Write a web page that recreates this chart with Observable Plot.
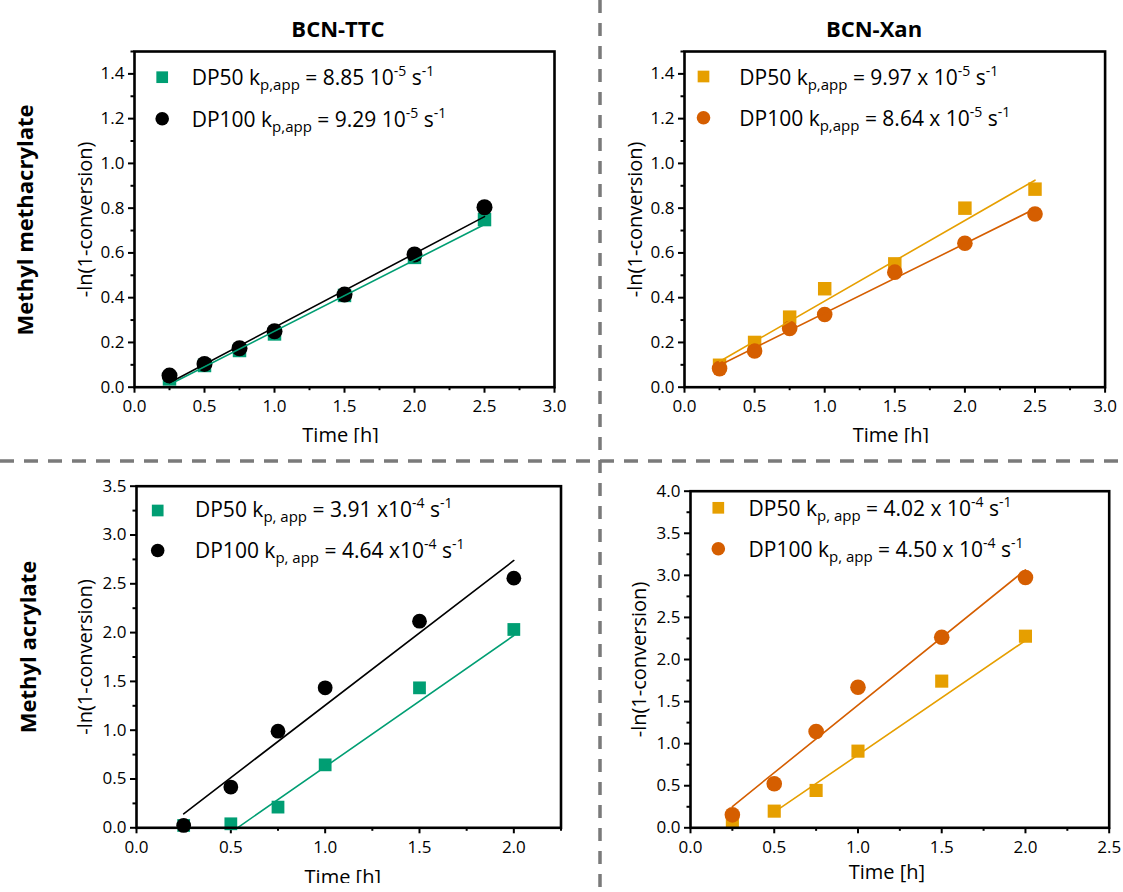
<!DOCTYPE html>
<html>
<head>
<meta charset="utf-8">
<script src="https://cdn.jsdelivr.net/npm/d3@7"></script>
<script src="https://cdn.jsdelivr.net/npm/@observablehq/plot@0.6"></script>
<style>
  html, body { margin: 0; padding: 0; background: #fff; }
  #page { position: relative; width: 1123px; height: 892px; overflow: hidden; background: #fff; }
  #page svg { position: absolute; }
</style>
</head>
<body>
<div id="page"></div>
<script>
// ---------------- data ----------------
const colTitles = ["BCN-TTC", "BCN-Xan"];
const rowTitles = ["Methyl methacrylate", "Methyl acrylate"];
const yTitle = "-ln(1-conversion)";
const xTitle = "Time [h]";

const timesMMA = [0.25, 0.5, 0.75, 1.0, 1.5, 2.0, 2.5];
const ttcMMA_DP50 = [0.037, 0.097, 0.164, 0.238, 0.41, 0.58, 0.749];
const ttcMMA_DP100 = [0.052, 0.104, 0.174, 0.25, 0.414, 0.593, 0.804];
const ttcMMA_fitX = [0.25, 2.5];
const ttcMMA_fit50 = [0.012, 0.727];
const ttcMMA_fit100 = [0.02, 0.762];

const xanMMA_DP50 = [0.098, 0.20, 0.313, 0.44, 0.551, 0.80, 0.885];
const xanMMA_DP100 = [0.083, 0.162, 0.262, 0.325, 0.514, 0.643, 0.774];
const xanMMA_fitX = [0.25, 2.5];
const xanMMA_fit50 = [0.115, 0.925];
const xanMMA_fit100 = [0.098, 0.797];

const timesMA = [0.25, 0.5, 0.75, 1.0, 1.5, 2.0];
const ttcMA_DP50 = [0.024, 0.041, 0.212, 0.645, 1.434, 2.032];
const ttcMA_DP100 = [0.024, 0.417, 0.99, 1.434, 2.117, 2.558];
const ttcMA_fit50X = [0.535, 2.0];
const ttcMA_fit50 = [0.0, 1.97];
const ttcMA_fit100X = [0.25, 2.0];
const ttcMA_fit100 = [0.143, 2.739];

const xanMA_DP50 = [0.087, 0.198, 0.444, 0.911, 1.743, 2.277];
const xanMA_DP100 = [0.154, 0.523, 1.145, 1.671, 2.265, 2.974];
const xanMA_fit50X = [0.5, 2.0];
const xanMA_fit50 = [0.186, 2.226];
const xanMA_fit100X = [0.25, 2.0];
const xanMA_fit100 = [0.253, 3.065];

// tick values
const xMajor30 = [0.0, 0.5, 1.0, 1.5, 2.0, 2.5, 3.0];
const xMinor30 = [0.25, 0.75, 1.25, 1.75, 2.25, 2.75];
const xMajor225 = [0.0, 0.5, 1.0, 1.5, 2.0];
const xMinor225 = [0.25, 0.75, 1.25, 1.75, 2.25];
const xMajor25 = [0.0, 0.5, 1.0, 1.5, 2.0, 2.5];
const xMinor25 = [0.25, 0.75, 1.25, 1.75, 2.25];
const yMajor15 = [0.0, 0.2, 0.4, 0.6, 0.8, 1.0, 1.2, 1.4];
const yMinor15 = [0.1, 0.3, 0.5, 0.7, 0.9, 1.1, 1.3, 1.5];
const yMajor35 = [0.0, 0.5, 1.0, 1.5, 2.0, 2.5, 3.0, 3.5];
const yMinor35 = [0.25, 0.75, 1.25, 1.75, 2.25, 2.75, 3.25];
const yMajor40 = [0.0, 0.5, 1.0, 1.5, 2.0, 2.5, 3.0, 3.5, 4.0];
const yMinor40 = [0.25, 0.75, 1.25, 1.75, 2.25, 2.75, 3.25, 3.75];

// legend labels: [main, sub, main, sup, main, sup]
const legTTC_MMA = [
  ["DP50 k", "p,app", " = 8.85 10", "-5", " s", "-1"],
  ["DP100 k", "p,app", " = 9.29 10", "-5", " s", "-1"]
];
const legXan_MMA = [
  ["DP50 k", "p,app", " = 9.97 x 10", "-5", " s", "-1"],
  ["DP100 k", "p,app", " = 8.64 x 10", "-5", " s", "-1"]
];
const legTTC_MA = [
  ["DP50 k", "p, app", " = 3.91 x10", "-4", " s", "-1"],
  ["DP100 k", "p, app", " = 4.64 x10", "-4", " s", "-1"]
];
const legXan_MA = [
  ["DP50 k", "p, app", " = 4.02 x 10", "-4", " s", "-1"],
  ["DP100 k", "p, app", " = 4.50 x 10", "-4", " s", "-1"]
];

const GREEN = "#009E73", BLACK = "#000000", ORANGE = "#E69F00", DARKOR = "#D55E00";
const FONT = "'Open Sans', sans-serif";

// ---------------- panels ----------------
const zip = (xs, ys) => xs.map((x, i) => ({x, y: ys[i]}));

const panels = [
  {
    box: [0, 0, 592, 443], frame: [134, 554, 51, 386.7],
    xDomain: [0, 3], yDomain: [0, 1.5],
    xMajor: xMajor30, xMinor: xMinor30, yMajor: yMajor15, yMinor: yMinor15,
    s50: zip(timesMMA, ttcMMA_DP50), s100: zip(timesMMA, ttcMMA_DP100),
    f50: zip(ttcMMA_fitX, ttcMMA_fit50), f100: zip(ttcMMA_fitX, ttcMMA_fit100),
    c50: GREEN, c100: BLACK, r50: 7.6, r100: 8,
    yTitleDx: -49, xTitleDx: -4, xTitleDy: 48.5,
    leg: legTTC_MMA, legDot: [27.7, 25.7, 67.3], legText: [191.7, 85, 126.7]
  },
  {
    box: [603, 0, 520, 443], frame: [684, 1104.6, 51, 386.7],
    xDomain: [0, 3], yDomain: [0, 1.5],
    xMajor: xMajor30, xMinor: xMinor30, yMajor: yMajor15, yMinor: yMinor15,
    s50: zip(timesMMA, xanMMA_DP50), s100: zip(timesMMA, xanMMA_DP100),
    f50: zip(xanMMA_fitX, xanMMA_fit50), f100: zip(xanMMA_fitX, xanMMA_fit100),
    c50: ORANGE, c100: DARKOR, r50: 7.6, r100: 7.8,
    yTitleDx: -48.6, xTitleDx: -4, xTitleDy: 48.5,
    leg: legXan_MMA, legDot: [19, 25, 66.3], legText: [739.3, 85, 126]
  },
  {
    box: [0, 465, 592, 418], frame: [136, 560.5, 485.7, 827.3],
    xDomain: [0, 2.25], yDomain: [0, 3.5],
    xMajor: xMajor225, xMinor: xMinor225, yMajor: yMajor35, yMinor: yMinor35,
    s50: zip(timesMA, ttcMA_DP50), s100: zip(timesMA, ttcMA_DP100),
    f50: zip(ttcMA_fit50X, ttcMA_fit50), f100: zip(ttcMA_fit100X, ttcMA_fit100),
    c50: GREEN, c100: BLACK, r50: 7.2, r100: 7.4,
    yTitleDx: -51, xTitleDx: -6, xTitleDy: 49.4,
    leg: legTTC_MA, legDot: [21.2, 24.3, 64.3], legText: [195, 516.7, 558.3]
  },
  {
    box: [603, 465, 520, 418], frame: [690, 1108.7, 490.7, 827.3],
    xDomain: [0, 2.5], yDomain: [0, 4],
    xMajor: xMajor25, xMinor: xMinor25, yMajor: yMajor40, yMinor: yMinor40,
    s50: zip(timesMA, xanMA_DP50), s100: zip(timesMA, xanMA_DP100),
    f50: zip(xanMA_fit50X, xanMA_fit50), f100: zip(xanMA_fit100X, xanMA_fit100),
    c50: ORANGE, c100: DARKOR, r50: 7.4, r100: 7.8,
    yTitleDx: -51, xTitleDx: -13, xTitleDy: 44.4,
    leg: legXan_MA, legDot: [27.8, 16.6, 57.6], legText: [748.6, 515.7, 556.7]
  }
];

const page = document.getElementById("page");
const fmt = d3.format(".1f");

for (const p of panels) {
  const [bx, by, bw, bh] = p.box;
  const [fx0, fx1, fy0, fy1] = p.frame;
  const chart = Plot.plot({
    width: bw, height: bh,
    marginLeft: fx0 - bx, marginRight: bx + bw - fx1,
    marginTop: fy0 - by, marginBottom: by + bh - fy1,
    x: {domain: p.xDomain},
    y: {domain: p.yDomain},
    style: {fontFamily: FONT, fontSize: "17px", color: "#000", background: "transparent", overflow: "hidden"},
    marks: [
      Plot.axisX(p.xMajor, {tickSize: 6, tickPadding: 7, tickFormat: fmt, strokeWidth: 2, label: null, fontSize: 17}),
      Plot.axisX(p.xMinor, {tickSize: 3.5, tickFormat: () => "", strokeWidth: 2, label: null}),
      Plot.axisY(p.yMajor, {tickSize: 6, tickPadding: 4, tickFormat: fmt, strokeWidth: 2, label: null, fontSize: 17}),
      Plot.axisY(p.yMinor, {tickSize: 3.5, tickFormat: () => "", strokeWidth: 2, label: null}),
      Plot.dot(p.s50, {x: "x", y: "y", symbol: "square", r: p.r50, fill: p.c50}),
      Plot.dot(p.s100, {x: "x", y: "y", symbol: "circle", r: p.r100, fill: p.c100}),
      Plot.line(p.f50, {x: "x", y: "y", stroke: p.c50, strokeWidth: 1.6}),
      Plot.line(p.f100, {x: "x", y: "y", stroke: p.c100, strokeWidth: 1.6}),
      Plot.frame({stroke: "#000", strokeWidth: 2.6}),
      // legend symbols
      Plot.dot([p.leg[0]], {frameAnchor: "top-left", dx: p.legDot[0], dy: p.legDot[1], symbol: "square", r: 6.6, fill: p.c50}),
      Plot.dot([p.leg[1]], {frameAnchor: "top-left", dx: p.legDot[0], dy: p.legDot[2], symbol: "circle", r: 6.8, fill: p.c100}),
      // axis titles
      Plot.text([yTitle], {frameAnchor: "left", textAnchor: "middle", lineAnchor: "middle", dx: p.yTitleDx, rotate: -90, fontSize: 20, text: d => d, fill: "#000"}),
      Plot.text([xTitle], {frameAnchor: "bottom", textAnchor: "middle", lineAnchor: "middle", dx: p.xTitleDx, dy: p.xTitleDy, fontSize: 20, text: d => d, fill: "#000"})
    ]
  });
  chart.style.left = bx + "px";
  chart.style.top = by + "px";
  page.appendChild(chart);
}

// ---------------- overlay: titles, legend texts, dividers ----------------
const ov = d3.select(page).append("svg")
  .attr("width", 1123).attr("height", 892)
  .style("left", "0px").style("top", "0px").style("pointer-events", "none")
  .attr("font-family", FONT);

ov.append("text").attr("x", 338).attr("y", 36.5).attr("text-anchor", "middle")
  .attr("font-size", 22).attr("font-weight", 700).text(colTitles[0]);
ov.append("text").attr("x", 874).attr("y", 36.5).attr("text-anchor", "middle")
  .attr("font-size", 22).attr("font-weight", 700).text(colTitles[1]);

ov.append("text").attr("transform", "translate(33,220) rotate(-90)").attr("text-anchor", "middle")
  .attr("font-size", 22).attr("font-weight", 700).text(rowTitles[0]);
ov.append("text").attr("transform", "translate(35.5,647) rotate(-90)").attr("text-anchor", "middle")
  .attr("font-size", 22).attr("font-weight", 700).text(rowTitles[1]);

function legendLine(x, y, parts) {
  const t = ov.append("text").attr("x", x).attr("y", y).attr("font-size", 21).attr("fill", "#000");
  t.append("tspan").text(parts[0]);
  t.append("tspan").attr("font-size", 15).attr("dy", 5).text(parts[1]);
  t.append("tspan").attr("dy", -5).text(parts[2]);
  t.append("tspan").attr("font-size", 14).attr("dy", -9).text(parts[3]);
  t.append("tspan").attr("dy", 9).text(parts[4]);
  t.append("tspan").attr("font-size", 14).attr("dy", -9).text(parts[5]);
}
for (const p of panels) {
  legendLine(p.legText[0], p.legText[1], p.leg[0]);
  legendLine(p.legText[0], p.legText[2], p.leg[1]);
}

ov.append("line").attr("x1", 600).attr("x2", 600).attr("y1", 0).attr("y2", 892)
  .attr("stroke", "#7a7a7a").attr("stroke-width", 3.5).attr("stroke-dasharray", "13 10");
ov.append("line").attr("x1", 0).attr("x2", 1123).attr("y1", 461).attr("y2", 461)
  .attr("stroke", "#7a7a7a").attr("stroke-width", 3.5).attr("stroke-dasharray", "14 10");
</script>
</body>
</html>
